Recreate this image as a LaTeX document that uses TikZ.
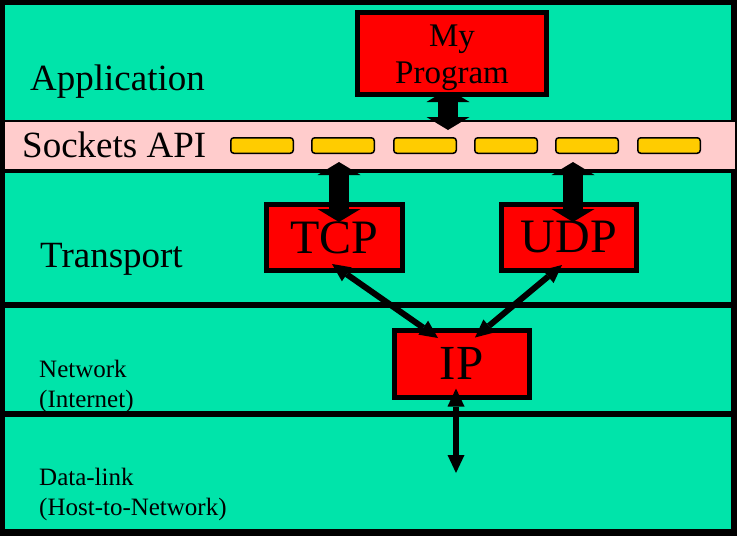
\documentclass[tikz,border=0pt]{standalone}
\usepackage{fontspec}
\setmainfont{Liberation Serif}
\usetikzlibrary{arrows.meta,calc}
\pgfdeclarelayer{back}
\pgfdeclarelayer{mid}
\pgfsetlayers{back,mid,main}
\definecolor{layergreen}{RGB}{0,228,170}
\definecolor{apipink}{RGB}{255,204,204}
\definecolor{slotyellow}{RGB}{255,204,0}
\begin{document}
\begin{tikzpicture}[x=1pt,y=-1pt,
  band/.style={draw=none, anchor=north west, inner sep=0pt, outer sep=0pt},
  proto/.style={draw=black, line width=5pt, fill=red, inner sep=0pt},
  biglbl/.style={anchor=base west, inner sep=0pt, font=\fontsize{37}{40}\selectfont},
  smalllbl/.style={anchor=base west, inner sep=0pt, align=left, font=\fontsize{25}{30}\selectfont},
  slot/.style={draw=black, line width=1.5pt, fill=slotyellow, rounded corners=3pt,
    minimum width=62.5pt, minimum height=15.5pt, inner sep=0pt},
  blockarrow/.style={line width=20pt, {Triangle[width=43pt,length=13pt,line width=0pt]}-{Triangle[width=43pt,length=13pt,line width=0pt]}},
  thinarrow/.style={line width=6pt, {Triangle[width=17pt,length=18pt,line width=0pt]}-{Triangle[width=17pt,length=18pt,line width=0pt]}}
]
\useasboundingbox (0,0) rectangle (737,536);
\begin{pgfonlayer}{back}
  \fill[black] (0,0) rectangle (737,536);
  \node[band, fill=layergreen, minimum width=726pt, minimum height=115pt] (app) at (5,5) {};
  \node[band, fill=apipink, minimum width=730pt, minimum height=47pt] (api) at (5,122) {};
  \node[band, fill=layergreen, minimum width=726pt, minimum height=129pt] (transport) at (5,173) {};
  \node[band, fill=layergreen, minimum width=726pt, minimum height=103pt] (network) at (5,308) {};
  \node[band, fill=layergreen, minimum width=726pt, minimum height=112pt] (datalink) at (5,417) {};
\end{pgfonlayer}

% layer labels
\node[biglbl] (applbl) at (30,90) {Application};
\node[biglbl] (apilbl) at (22,157) {Sockets API};
\node[biglbl] (translbl) at (40,267) {Transport};
\node[smalllbl] (netlbl) at (39,407) {Network\\(Internet)};
\node[smalllbl] (linklbl) at (39,515) {Data-link\\(Host-to-Network)};

% socket slots
\foreach \i/\x in {1/262,2/343,3/425,4/506,5/587,6/669}
  \node[slot] (slot\i) at (\x,145.5) {};

% protocol boxes
\node[proto, minimum width=189pt, minimum height=82pt] (prog) at (452,53.5) {};
\node[inner sep=0pt, anchor=base, align=center, font=\fontsize{33}{36.5}\selectfont] (progtxt) at ($(prog.south)+(0,-14)$) {My\\Program};
\node[proto, minimum width=136pt, minimum height=66pt, font=\fontsize{48}{50}\selectfont] (tcp) at (334.5,237.5) {TCP};
\node[proto, minimum width=135pt, minimum height=66pt, font=\fontsize{48}{50}\selectfont] (udp) at (569,237.5) {UDP};
\node[proto, minimum width=135pt, minimum height=67pt, font=\fontsize{49}{50}\selectfont] (ip) at (461.5,363.5) {IP};

% connector ends in the sockets band and data-link layer
\coordinate (progsock) at (448,130);
\coordinate (tcpsock) at (339,162);
\coordinate (udpsock) at (573,162);
\coordinate (linkend) at (456,473);

\begin{pgfonlayer}{mid}
  \draw[blockarrow] ($(prog.south)+(-4,-8)$) -- (progsock);
\end{pgfonlayer}
\draw[blockarrow] (tcpsock) -- ($(tcp.north)+(4.5,20)$);
\draw[blockarrow] (udpsock) -- ($(udp.north)+(4,20)$);
\draw[thinarrow] ($(tcp.south)+(-2.5,-9)$) -- ($(ip.north)+(-23.5,10.5)$);
\draw[thinarrow] ($(udp.south)+(-7,-8)$) -- ($(ip.north)+(13.5,10)$);
\draw[thinarrow, line width=5.5pt] ($(ip.south)+(-5.5,-11)$) -- (linkend);
\end{tikzpicture}
\end{document}
